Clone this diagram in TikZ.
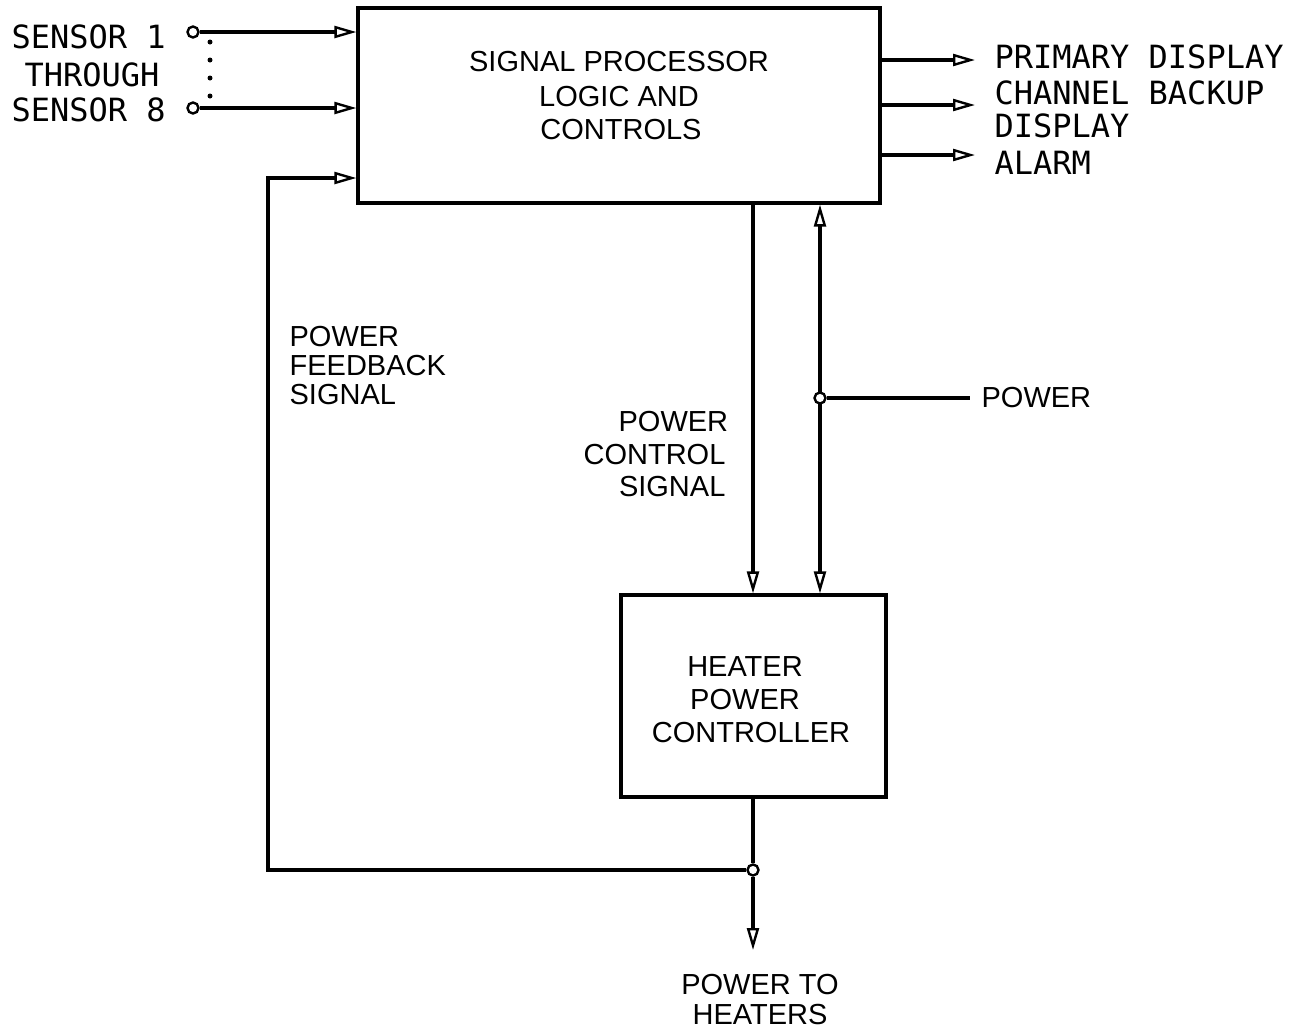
\documentclass[tikz,border=0pt]{standalone}
\usepackage{fontspec}
\setmainfont{Liberation Sans}
\newfontfamily\twfont{DejaVu Sans Mono}
\usetikzlibrary{arrows.meta,calc}
\begin{document}
\begin{tikzpicture}[x=0.5pt,y=-0.5pt,
  line width=1.6pt,
  blk/.style={draw, line width=1.6pt, inner sep=0pt},
  lbl/.style={inner sep=0pt, font=\fontsize{14.5}{16}\selectfont},
  tw/.style={inner sep=0pt, anchor=west, font=\twfont\fontsize{16}{18}\selectfont},
  arr/.style={-{Triangle[open,length=11pt,width=6pt,line width=1.2pt]}},
  barr/.style={{Triangle[open,length=11pt,width=6pt,line width=1.2pt]}-{Triangle[open,length=11pt,width=6pt,line width=1.2pt]}},
  port/.style={circle, draw, fill=white, line width=1.2pt, inner sep=0pt, minimum size=5.5pt}]
\useasboundingbox (0,0) rectangle (1303,1029);
\fill[white] (0,0) rectangle (1303,1029);

% blocks
\node (sp) [blk, minimum width=261pt, minimum height=97.5pt] at (619,105.5) {};
\node (hp) [blk, minimum width=132.5pt, minimum height=101pt] at (753.5,696) {};

% block texts
\node (sp1) [lbl] at (619,62) {SIGNAL PROCESSOR};
\node (sp2) [lbl] at (619,97) {LOGIC AND};
\node (sp3) [lbl] at (621,130) {CONTROLS};
\node (hp1) [lbl] at (745,667) {HEATER};
\node (hp2) [lbl] at (745,700) {POWER};
\node (hp3) [lbl] at (751,733) {CONTROLLER};

% sensors
\node (t1) [tw] at (10,37) {SENSOR 1};
\node (t2) [tw] at (23,75) {THROUGH};
\node (t3) [tw] at (10,110) {SENSOR 8};
\node (s1) [port] at (193,32) {};
\node (s8) [port] at (193,108) {};
\draw[arr] (s1) -- (s1 -| sp.west);
\draw[arr] (s8) -- (s8 -| sp.west);
\coordinate (d1) at (210,42);
\coordinate (d2) at (210,100);
\draw[line width=2.5pt, dash pattern=on 0pt off 9pt, line cap=round] (d1) -- (d2);

% outputs
\node (o1) [tw] at (993,57) {PRIMARY DISPLAY};
\node (o2) [tw] at (993,93) {CHANNEL BACKUP};
\node (o3) [tw] at (993,126) {DISPLAY};
\node (o4) [tw] at (993,163) {ALARM};
\coordinate (e1) at (975,60);
\coordinate (e2) at (975,105);
\coordinate (e3) at (975,155);
\draw[arr] (sp.east |- e1) -- (e1);
\draw[arr] (sp.east |- e2) -- (e2);
\draw[arr] (sp.east |- e3) -- (e3);

% power control signal
\coordinate (pcx) at (753,0);
\draw[arr] (sp.south -| pcx) -- (hp.north -| pcx);
\node (pc1) [lbl, anchor=west] at (617,422) {POWER};
\node (pc2) [lbl, anchor=east] at (727,455) {CONTROL};
\node (pc3) [lbl, anchor=east] at (727,487) {SIGNAL};

% power
\coordinate (pwx) at (820,0);
\draw[barr] (sp.south -| pwx) -- (hp.north -| pwx);
\node (pj) [port] at (820,398) {};
\coordinate (pe) at (970,398);
\draw (pj) -- (pe);
\node (pw) [lbl, anchor=west] at (980,398) {POWER};

% output to heaters and feedback
\node (hj) [port] at (753,870) {};
\draw (hp.south -| hj) -- (hj);
\coordinate (hb) at (753,950);
\draw[arr] (hj) -- (hb);
\node (ph1) [lbl] at (760,985) {POWER TO};
\node (ph2) [lbl] at (760,1015) {HEATERS};
\coordinate (fb) at (268,870);
\coordinate (fi) at (0,178);
\draw[arr] (hj) -- (fb) |- (sp.west |- fi);
\node (fs) [lbl, anchor=west, align=left, font=\fontsize{14.5}{14.5}\selectfont] at (288,366) {POWER\\FEEDBACK\\SIGNAL};
\end{tikzpicture}
\end{document}
